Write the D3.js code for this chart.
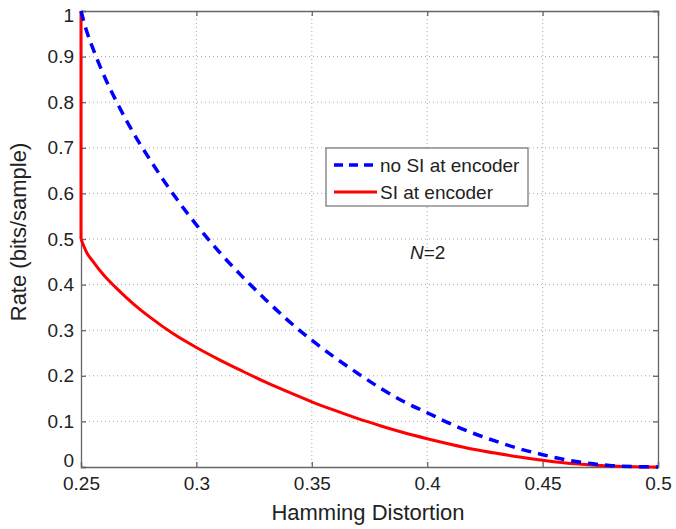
<!DOCTYPE html>
<html>
<head>
<meta charset="utf-8">
<script src="https://cdn.jsdelivr.net/npm/d3@7"></script>
<style>
  body { margin: 0; background: #fff; }
  svg text { font-family: "Liberation Sans", Arial, sans-serif; fill: #222; }
</style>
</head>
<body>
<div id="chart"></div>
<script>
// values
const xTicks = [0.25, 0.3, 0.35, 0.4, 0.45, 0.5];
const yTicks = [0, 0.1, 0.2, 0.3, 0.4, 0.5, 0.6, 0.7, 0.8, 0.9, 1];

const distortion = [0.25, 0.2525, 0.255, 0.26, 0.265, 0.27, 0.275, 0.28, 0.29, 0.30,
  0.31, 0.32, 0.33, 0.34, 0.35, 0.36, 0.37, 0.38, 0.39, 0.40,
  0.41, 0.42, 0.43, 0.44, 0.45, 0.46, 0.47, 0.48, 0.49, 0.50];

const rateNoSI = [1.0, 0.955, 0.92, 0.858, 0.805, 0.757, 0.713, 0.673, 0.598, 0.531,
  0.471, 0.417, 0.367, 0.32, 0.278, 0.24, 0.205, 0.172, 0.143, 0.119,
  0.095, 0.074, 0.056, 0.04, 0.027, 0.016, 0.008, 0.003, 0.001, 0];

// the SI curve starts with a vertical drop at D = 0.25 from 1 to 0.5
const rateSITop = 1.0;
const rateSI = [0.5, 0.47, 0.452, 0.42, 0.394, 0.37, 0.348, 0.328, 0.292, 0.262,
  0.235, 0.21, 0.186, 0.164, 0.143, 0.124, 0.106, 0.09, 0.075, 0.062,
  0.05, 0.039, 0.03, 0.022, 0.015, 0.009, 0.005, 0.002, 0.0005, 0];

const W = 676, H = 529;
const margin = {top: 11, right: 18, bottom: 62, left: 81};
const width = W - margin.left - margin.right,
      height = H - margin.top - margin.bottom;

const svg = d3.select("#chart").append("svg")
    .attr("width", W)
    .attr("height", H);

const g = svg.append("g")
    .attr("transform", `translate(${margin.left},${margin.top})`);

const x = d3.scaleLinear().domain([0.25, 0.5]).range([0, width]);
const y = d3.scaleLinear().domain([0, 1]).range([height, 0]);

// grid
g.append("g").selectAll("line")
  .data(xTicks.slice(1, -1))
  .join("line")
    .attr("x1", d => x(d)).attr("x2", d => x(d))
    .attr("y1", 0).attr("y2", height)
    .attr("stroke", "#aaa").attr("stroke-width", 1)
    .attr("stroke-dasharray", "1,3");
g.append("g").selectAll("line")
  .data(yTicks.slice(1, -1))
  .join("line")
    .attr("x1", 0).attr("x2", width)
    .attr("y1", d => y(d)).attr("y2", d => y(d))
    .attr("stroke", "#aaa").attr("stroke-width", 1)
    .attr("stroke-dasharray", "1,3");

// axes, ticks inward like matlab
const fmt = d => d3.format("")(d);
const xAxis = g.append("g").attr("transform", `translate(0,${height})`)
    .call(d3.axisBottom(x).tickValues(xTicks).tickSize(-5).tickPadding(7).tickFormat(fmt));
const xTop = g.append("g")
    .call(d3.axisTop(x).tickValues(xTicks).tickSize(-5).tickFormat(""));
const yAxis = g.append("g")
    .call(d3.axisLeft(y).tickValues(yTicks).tickSize(-5).tickPadding(7).tickFormat(fmt));
const yRight = g.append("g").attr("transform", `translate(${width},0)`)
    .call(d3.axisRight(y).tickValues(yTicks).tickSize(-5).tickFormat(""));

[xAxis, xTop, yAxis, yRight].forEach(a => {
  a.select(".domain").attr("stroke", "#666").attr("stroke-width", 1.3);
  a.selectAll(".tick line").attr("stroke", "#666").attr("stroke-width", 1.3);
  a.selectAll("text").style("font-size", "19px").attr("fill", "#222");
});
xAxis.selectAll("text").attr("dy", "0.85em");
yAxis.selectAll(".tick").filter(d => d === 0).select("text").attr("dy", "-0.05em");
yAxis.selectAll(".tick").filter(d => d === 1).select("text").attr("dy", "0.55em");

// curves
const line = d3.line().x(d => x(d[0])).y(d => y(d[1])).curve(d3.curveMonotoneX);
const straight = d3.line().x(d => x(d[0])).y(d => y(d[1]));

const noSI = distortion.map((d, i) => [d, rateNoSI[i]]);
const withSI = distortion.map((d, i) => [d, rateSI[i]]);

g.append("path")
    .datum([[distortion[0], rateSITop], [distortion[0], rateSI[0]]])
    .attr("d", straight)
    .attr("fill", "none")
    .attr("stroke", "#ff0000")
    .attr("stroke-width", 3);

g.append("path")
    .datum(withSI)
    .attr("d", line)
    .attr("fill", "none")
    .attr("stroke", "#ff0000")
    .attr("stroke-width", 3)
    .attr("stroke-linejoin", "round");

g.append("path")
    .datum(noSI)
    .attr("d", line)
    .attr("fill", "none")
    .attr("stroke", "#0000ff")
    .attr("stroke-width", 3.5)
    .attr("stroke-dasharray", "10,7");

// axis labels
svg.append("text")
    .attr("x", 368)
    .attr("y", 520)
    .attr("text-anchor", "middle")
    .style("font-size", "22px")
    .text("Hamming Distortion");

svg.append("text")
    .attr("transform", "translate(26,232) rotate(-90)")
    .attr("text-anchor", "middle")
    .style("font-size", "22px")
    .text("Rate (bits/sample)");

// N=2 annotation
const ann = svg.append("text")
    .attr("x", 410)
    .attr("y", 259)
    .style("font-size", "19px");
ann.append("tspan").style("font-style", "italic").text("N");
ann.append("tspan").text("=2");

// legend
const legend = svg.append("g").attr("transform", "translate(326,148)");
legend.append("rect")
    .attr("width", 202).attr("height", 58)
    .attr("fill", "#fff")
    .attr("stroke", "#555").attr("stroke-width", 1);

const items = [
  {label: "no SI at encoder", color: "#0000ff", dash: "9,6", w: 3.5},
  {label: "SI at encoder", color: "#ff0000", dash: null, w: 3}
];
items.forEach((it, i) => {
  const yy = 17 + i * 27;
  legend.append("line")
      .attr("x1", 8).attr("x2", 51)
      .attr("y1", yy).attr("y2", yy)
      .attr("stroke", it.color)
      .attr("stroke-width", it.w)
      .attr("stroke-dasharray", it.dash);
  legend.append("text")
      .attr("x", 54).attr("y", yy)
      .attr("dy", "0.35em")
      .style("font-size", "19px")
      .text(it.label);
});
</script>
</body>
</html>
